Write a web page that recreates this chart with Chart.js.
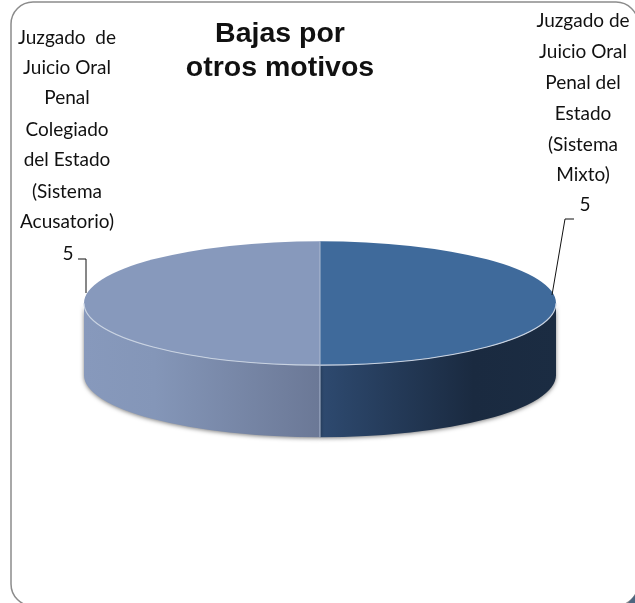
<!DOCTYPE html>
<html>
<head>
<meta charset="utf-8">
<style>
  html, body { margin: 0; padding: 0; background: #fff; overflow: hidden; }
  #grafico { position: absolute; left: 0; top: 0; }
</style>
<script src="https://cdn.jsdelivr.net/npm/chart.js@4"></script>
</head>
<body>
<canvas id="grafico" width="635" height="603"></canvas>
<script>
const categorias = [
  ["Juzgado de", "Juicio Oral", "Penal del", "Estado", "(Sistema", "Mixto)"],
  ["Juzgado  de", "Juicio Oral", "Penal", "Colegiado", "del Estado", "(Sistema", "Acusatorio)"],
];
const valores = [5, 5];
const titulo = ["Bajas por", "otros motivos"];
const coloresCara = ["#3f6a9b", "#8799bc"];

// aplastamiento y grosor del pastel 3D
const aplastado = 62 / 236;
const grosor = 72;

// [posicion, color] del degradado horizontal de cada pared
const paredes = [
  [[0, "#2e4a70"], [0.65, "#1a2a40"], [1, "#1b2c42"]],
  [[0, "#8799bc"], [0.3, "#8496b8"], [1, "#6b7896"]],
];

const etiquetas = [
  { x: 583, y: [21, 52, 83, 114, 145, 175], yValor: 205, xValor: 585, linea: [[552, 295], [565, 219], [574, 219]] },
  { x: 67, y: [38, 68, 98, 130, 160, 192, 222], yValor: 254, xValor: 68, linea: [[86, 293], [86, 259], [78, 259]] },
];

const pastel3d = {
  id: "pastel3d",
  beforeDraw(chart) {
    const ctx = chart.ctx;
    ctx.save();
    ctx.strokeStyle = "#8c8c8c";
    ctx.lineWidth = 1.5;
    ctx.beginPath();
    ctx.roundRect(11, 2, 627, 604, 22);
    ctx.stroke();
    // esquina oscura que asoma abajo a la derecha
    ctx.fillStyle = "#4d6680";
    ctx.beginPath();
    ctx.moveTo(628, 603);
    ctx.lineTo(635, 595);
    ctx.lineTo(635, 603);
    ctx.closePath();
    ctx.fill();
    ctx.restore();
  },
  beforeDatasetsDraw(chart) {
    const ctx = chart.ctx;
    chart.getDatasetMeta(0).data.forEach((arco, i) => {
      const ini = Math.max(arco.startAngle, 0);
      const fin = Math.min(arco.endAngle, Math.PI);
      const rx = arco.outerRadius;
      const ry = rx * aplastado;
      const x0 = arco.x + rx * Math.min(Math.cos(ini), Math.cos(fin));
      const x1 = arco.x + rx * Math.max(Math.cos(ini), Math.cos(fin));
      const grad = ctx.createLinearGradient(x0, 0, x1, 0);
      paredes[i].forEach(([p, c]) => grad.addColorStop(p, c));
      ctx.save();
      ctx.shadowColor = "rgba(0,0,0,0.5)";
      ctx.shadowBlur = 4;
      ctx.shadowOffsetY = 1;
      ctx.fillStyle = grad;
      ctx.beginPath();
      ctx.ellipse(arco.x, arco.y, rx, ry, 0, ini, fin);
      ctx.ellipse(arco.x, arco.y + grosor, rx, ry, 0, fin, ini, true);
      ctx.closePath();
      ctx.fill();
      ctx.restore();
    });
    // la cara superior se dibuja aplastada
    const { x, y } = chart.getDatasetMeta(0).data[0];
    ctx.save();
    ctx.translate(x, y);
    ctx.scale(1, aplastado);
    ctx.translate(-x, -y);
  },
  afterDatasetsDraw(chart) {
    const ctx = chart.ctx;
    ctx.restore();
    const arco = chart.getDatasetMeta(0).data[0];
    const rx = arco.outerRadius;
    const ry = rx * aplastado;
    ctx.save();
    ctx.lineWidth = 1.2;
    ctx.strokeStyle = "#c9d3e2";
    ctx.beginPath();
    ctx.ellipse(arco.x, arco.y, rx, ry, 0, 0, Math.PI);
    ctx.stroke();
    ctx.lineWidth = 1;
    ctx.strokeStyle = "#aebbd2";
    ctx.beginPath();
    ctx.moveTo(arco.x, arco.y - ry);
    ctx.lineTo(arco.x, arco.y + ry + grosor);
    ctx.stroke();
    ctx.restore();
  },
  afterDraw(chart) {
    const ctx = chart.ctx;
    ctx.save();
    ctx.fillStyle = "#111";
    ctx.strokeStyle = "#111";
    ctx.lineWidth = 1;
    ctx.font = "19px Lato";
    ctx.textAlign = "center";
    ctx.textBaseline = "middle";
    etiquetas.forEach((et, i) => {
      categorias[i].forEach((txt, j) => ctx.fillText(txt, et.x, et.y[j]));
      ctx.fillText(String(valores[i]), et.xValor, et.yValor);
      ctx.beginPath();
      et.linea.forEach(([lx, ly], j) => (j ? ctx.lineTo(lx, ly) : ctx.moveTo(lx, ly)));
      ctx.stroke();
    });
    ctx.restore();
  },
  afterLayout(chart) {
    // el titulo va algo a la izquierda del centro
    chart.titleBlock.left -= 40;
    chart.titleBlock.right -= 40;
  },
};

new Chart(document.getElementById("grafico"), {
  type: "pie",
  data: {
    labels: categorias.map((c) => c.join(" ")),
    datasets: [
      {
        data: valores,
        backgroundColor: coloresCara,
        borderWidth: 0,
        radius: 236,
        clip: false,
      },
    ],
  },
  options: {
    responsive: false,
    animation: false,
    layout: { padding: { left: 5, right: 0, top: 0, bottom: 82 } },
    plugins: {
      legend: { display: false },
      tooltip: { enabled: false },
      title: {
        display: true,
        text: titulo,
        color: "#111",
        font: { family: "Liberation Sans", size: 28.5, weight: "bold", lineHeight: 1.2 },
        padding: { top: 17, bottom: 0 },
      },
    },
  },
  plugins: [pastel3d],
});
</script>
</body>
</html>
